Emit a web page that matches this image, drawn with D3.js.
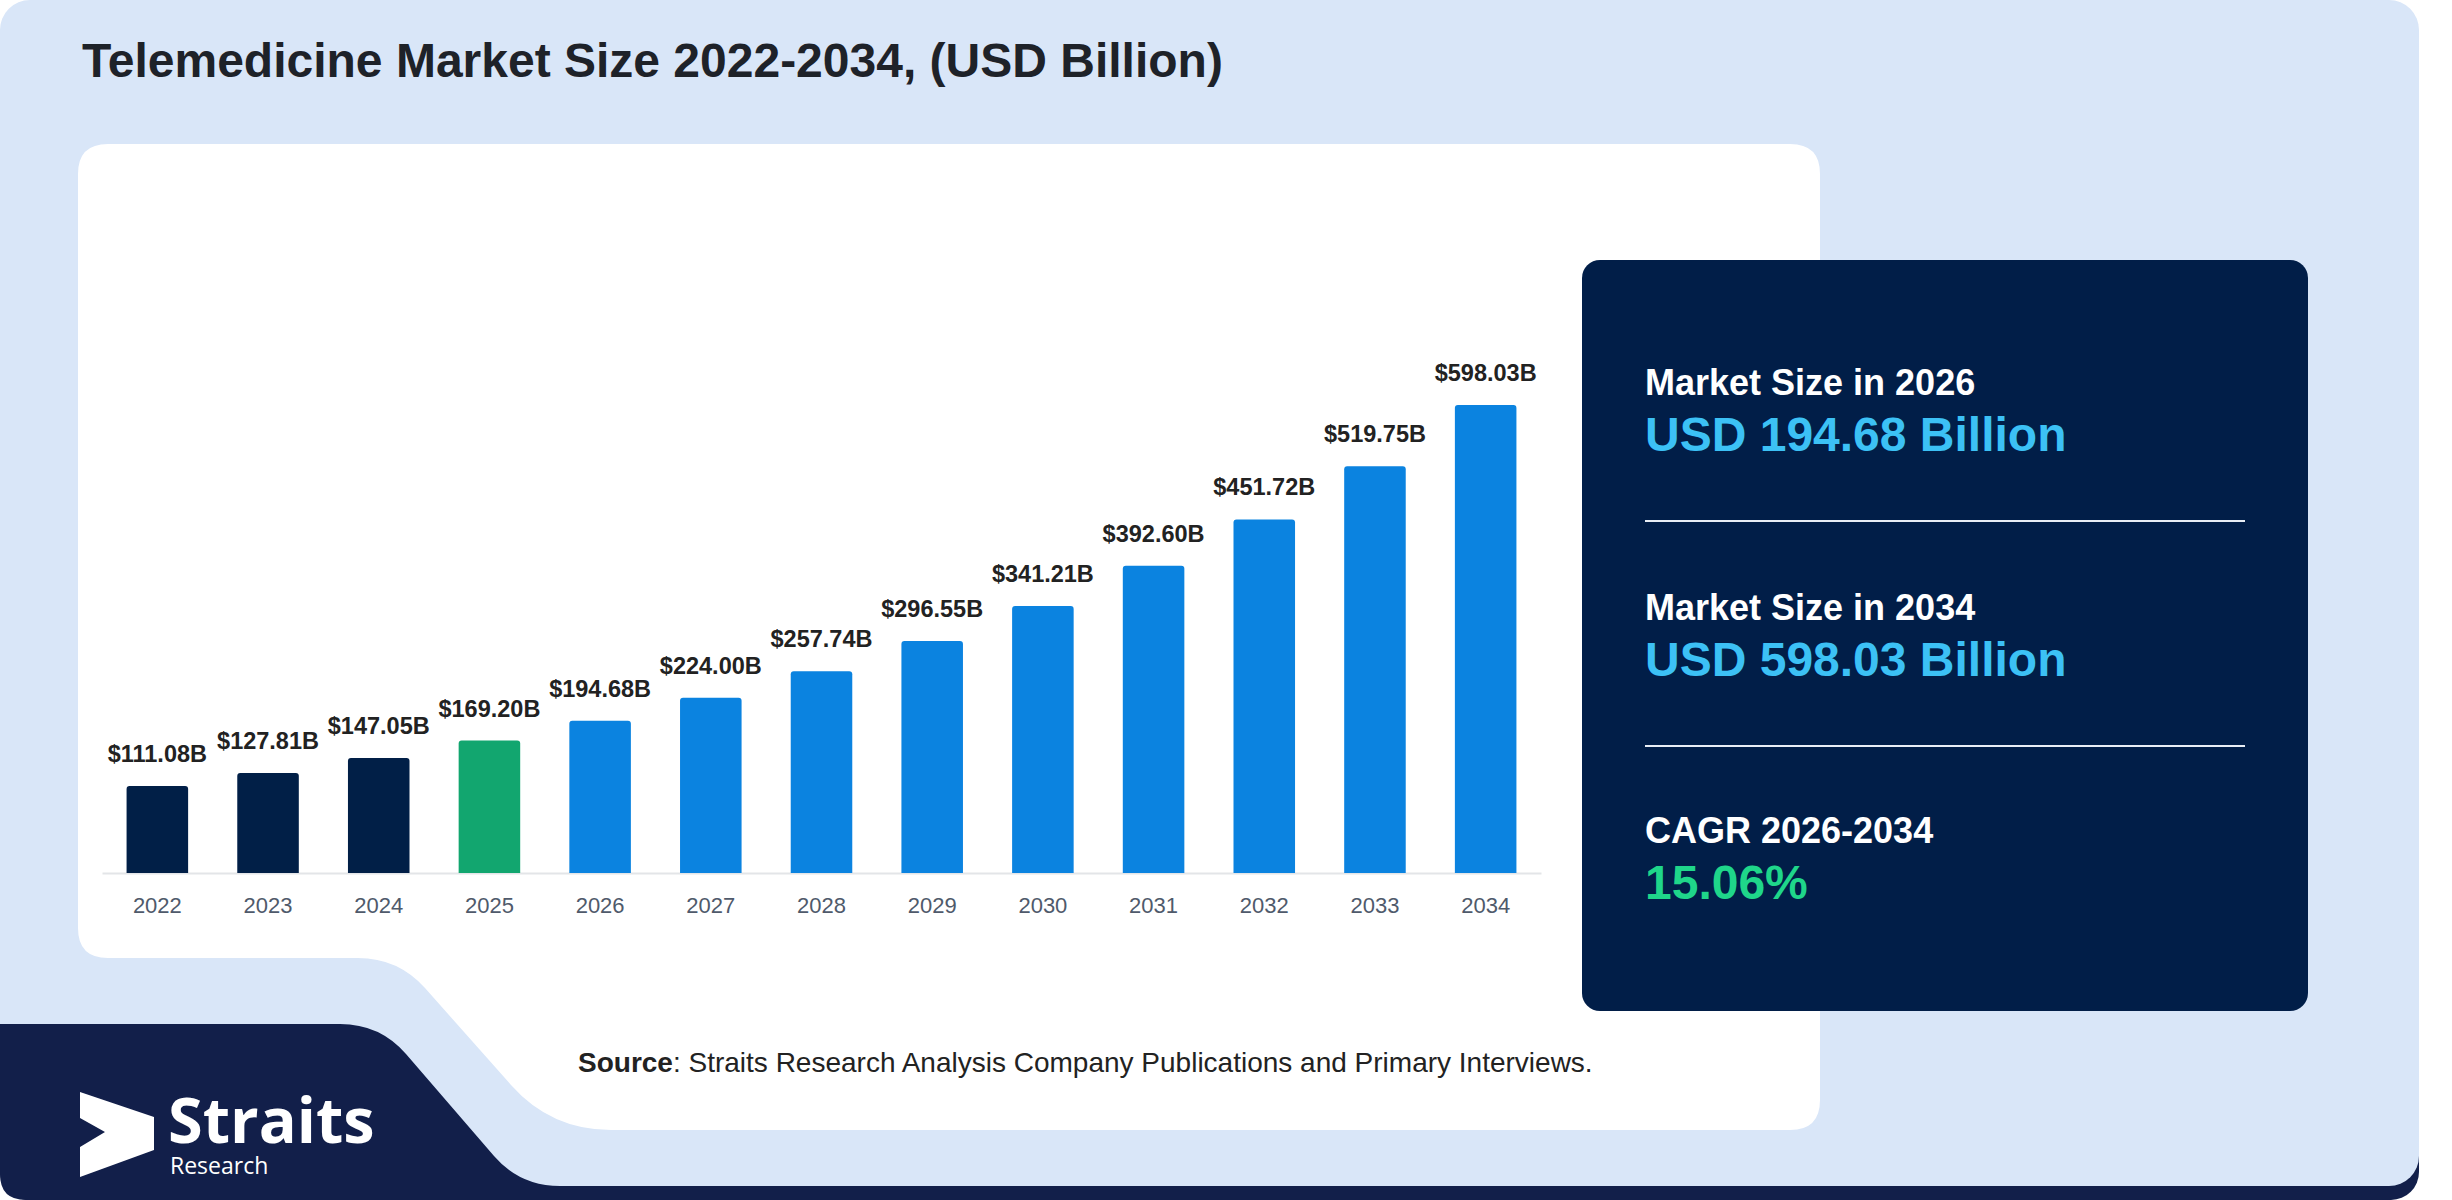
<!DOCTYPE html>
<html>
<head>
<meta charset="utf-8">
<script src="https://cdn.jsdelivr.net/npm/d3@7"></script>
<style>
  body { margin: 0; background: #ffffff; }
  svg { display: block; font-family: "Liberation Sans", Arial, sans-serif; }
</style>
</head>
<body>
<div id="plot"></div>
<script>
// Chart data
const years = ["2022", "2023", "2024", "2025", "2026", "2027", "2028", "2029", "2030", "2031", "2032", "2033", "2034"];
const values = [111.08, 127.81, 147.05, 169.20, 194.68, 224.00, 257.74, 296.55, 341.21, 392.60, 451.72, 519.75, 598.03];
const phases = ["hist", "hist", "hist", "base", "fcst", "fcst", "fcst", "fcst", "fcst", "fcst", "fcst", "fcst", "fcst"];

// Side panel text
const statLabels = ["Market Size in 2026", "Market Size in 2034", "CAGR 2026-2034"];
const statValues = ["USD 194.68 Billion", "USD 598.03 Billion", "15.06%"];

const title = "Telemedicine Market Size 2022-2034, (USD Billion)";

const width = 2452;
const height = 1200;

const phaseColor = { hist: "#011f47", base: "#12a66f", fcst: "#0b83e0" };

const svg = d3.select("#plot").append("svg")
  .attr("width", width)
  .attr("height", height);

// Background card: navy strip underneath, light blue on top
svg.append("rect")
  .attr("x", 0).attr("y", 600)
  .attr("width", 2419).attr("height", 600)
  .attr("rx", 28)
  .attr("fill", "#121f4a");

svg.append("rect")
  .attr("x", 0).attr("y", 0)
  .attr("width", 2419).attr("height", 1186)
  .attr("rx", 30)
  .attr("fill", "#d9e6f8");

// Navy block with logo in bottom-left
svg.append("path")
  .attr("d", "M0,1024 L340,1024 Q380,1024 406,1054 L494,1156 Q520,1186 560,1186 L560,1200 L26,1200 Q0,1200 0,1174 Z")
  .attr("fill", "#121f4a");

// White chart card with stepped bottom-left edge
svg.append("path")
  .attr("d", "M108,144 L1790,144 Q1820,144 1820,174 L1820,1100 Q1820,1130 1790,1130 L611,1130 Q551,1130 511,1085 L425,988 Q398,958 358,958 L108,958 Q78,958 78,928 L78,174 Q78,144 108,144 Z")
  .attr("fill", "#ffffff");

// Title
svg.append("text")
  .attr("x", 82).attr("y", 77)
  .attr("font-size", 48)
  .attr("font-weight", "bold")
  .attr("fill", "#1e2229")
  .text(title);

// Scales
const x = d3.scaleBand()
  .domain(years)
  .range([102, 1541])
  .paddingInner(0.444)
  .paddingOuter(0.222);

const y = d3.scaleLinear()
  .domain([0, 598.03])
  .range([873, 405]);

// Baseline axis
const xAxis = d3.axisBottom(x).tickSize(0).tickPadding(24);
const axisG = svg.append("g")
  .attr("transform", `translate(0,${y(0)})`)
  .call(xAxis);
axisG.select(".domain")
  .attr("stroke", "#e3e5e8")
  .attr("stroke-width", 2);
axisG.selectAll(".tick text")
  .attr("font-family", "Liberation Sans, Arial, sans-serif")
  .attr("font-size", 22)
  .attr("fill", "#4f5a6b");

// Bars with slightly rounded tops
const r = 3;
svg.selectAll(".bar")
  .data(values)
  .enter()
  .append("path")
  .attr("class", "bar")
  .attr("fill", (d, i) => phaseColor[phases[i]])
  .attr("d", (d, i) => {
    const x0 = x(years[i]);
    const x1 = x0 + x.bandwidth();
    const y0 = y(0);
    const y1 = y(d);
    return `M${x0},${y0} L${x0},${y1 + r} Q${x0},${y1} ${x0 + r},${y1} L${x1 - r},${y1} Q${x1},${y1} ${x1},${y1 + r} L${x1},${y0} Z`;
  });

// Value labels
svg.selectAll(".val")
  .data(values)
  .enter()
  .append("text")
  .attr("class", "val")
  .attr("x", (d, i) => x(years[i]) + x.bandwidth() / 2)
  .attr("y", d => y(d) - 24)
  .attr("text-anchor", "middle")
  .attr("font-size", 23.5)
  .attr("font-weight", "bold")
  .attr("fill", "#222222")
  .text(d => "$" + d3.format(".2f")(d) + "B");

// Source line
const src = svg.append("text")
  .attr("x", 578).attr("y", 1072)
  .attr("font-size", 28)
  .attr("fill", "#222222");
src.append("tspan").attr("font-weight", "bold").text("Source");
src.append("tspan").text(": Straits Research Analysis Company Publications and Primary Interviews.");

// Side panel
svg.append("rect")
  .attr("x", 1582).attr("y", 260)
  .attr("width", 726).attr("height", 751)
  .attr("rx", 18)
  .attr("fill", "#011e48");

const statTop = [395, 620, 843];
const statColors = ["#3cc1f5", "#3cc1f5", "#1fd68a"];
statLabels.forEach((lab, i) => {
  svg.append("text")
    .attr("x", 1645).attr("y", statTop[i])
    .attr("font-size", 36)
    .attr("font-weight", "bold")
    .attr("fill", "#ffffff")
    .text(lab);
  svg.append("text")
    .attr("x", 1645).attr("y", statTop[i] + 56)
    .attr("font-size", 48)
    .attr("font-weight", "bold")
    .attr("fill", statColors[i])
    .text(statValues[i]);
  if (i < statLabels.length - 1) {
    svg.append("line")
      .attr("x1", 1645).attr("x2", 2245)
      .attr("y1", statTop[i] + 126).attr("y2", statTop[i] + 126)
      .attr("stroke", "#e8eef6")
      .attr("stroke-width", 2);
  }
});

// Logo
svg.append("path")
  .attr("d", "M80,1092 L154,1117 L154,1150 L80,1177 L80,1147 L105,1132 L80,1118 Z")
  .attr("fill", "#ffffff");
svg.append("text")
  .attr("x", 168).attr("y", 1143)
  .attr("font-family", "Open Sans, sans-serif")
  .attr("font-size", 63)
  .attr("font-weight", "bold")
  .attr("fill", "#ffffff")
  .text("Straits");
svg.append("text")
  .attr("x", 170).attr("y", 1174)
  .attr("font-family", "Open Sans, sans-serif")
  .attr("font-size", 23)
  .attr("fill", "#ffffff")
  .text("Research");
</script>
</body>
</html>
